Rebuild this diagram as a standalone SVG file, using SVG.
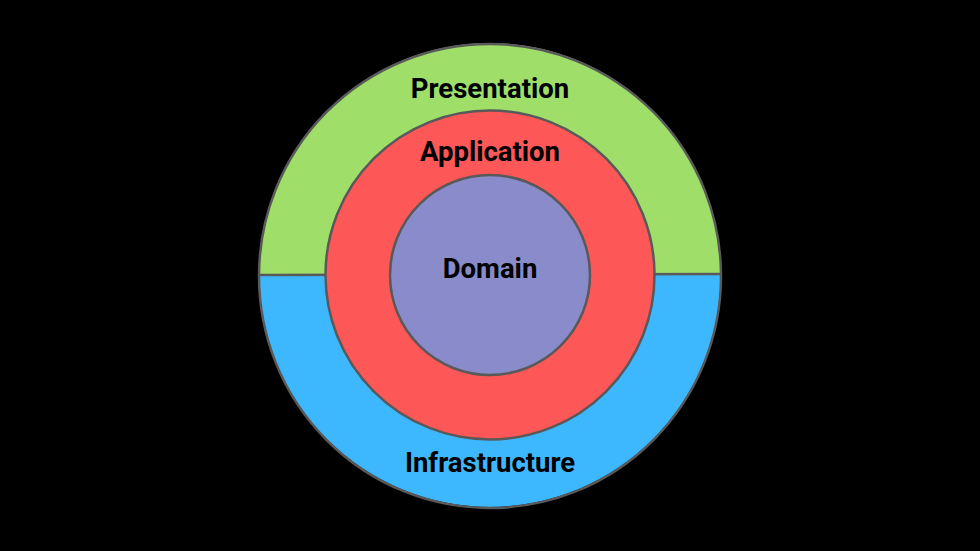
<svg xmlns="http://www.w3.org/2000/svg" width="980" height="551" viewBox="0 0 980 551">
<style>
.ring{stroke:#595959;stroke-width:2.5}
.lbl{font-family:Roboto,"Liberation Sans",sans-serif;font-weight:bold;font-size:27.5px;fill:#000;text-anchor:middle}
</style>
<rect width="980" height="551" fill="#000"/>
<g id="outer">
<path d="M259 275 A231 232 0 0 1 721 275 Z" fill="#9ede69"/>
<path d="M259 275 A231 232 0 0 0 721 275 Z" fill="#3db8ff"/>
<line x1="259" y1="275" x2="721" y2="274" class="ring"/>
<ellipse cx="490" cy="276" rx="231" ry="232" fill="none" class="ring"/>
<text x="490" y="98" class="lbl">Presentation</text>
<text x="490" y="472" class="lbl">Infrastructure</text>
</g>
<g id="application">
<circle cx="490" cy="275" r="164.5" fill="#fe5757" class="ring"/>
<text x="490" y="161" class="lbl">Application</text>
</g>
<g id="domain">
<circle cx="490" cy="275" r="100" fill="#898bcb" class="ring"/>
<text x="490" y="278" class="lbl">Domain</text>
</g>
<g id="connectors"></g>
</svg>
